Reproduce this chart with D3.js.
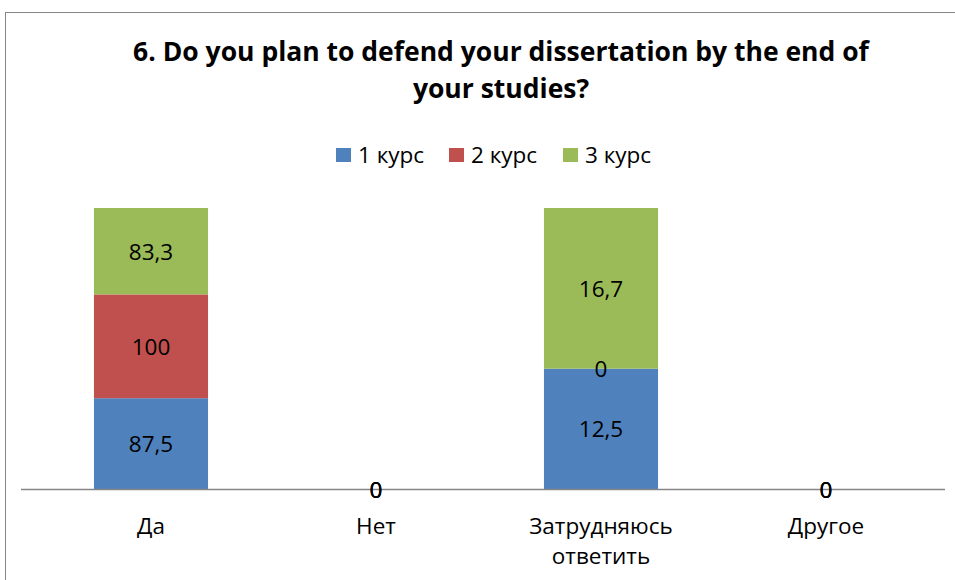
<!DOCTYPE html>
<html><head><meta charset="utf-8">
<script src="https://cdn.jsdelivr.net/npm/d3@7"></script>
<style>body{margin:0;background:#fff}svg{display:block}</style>
</head><body>
<script>
const categories = ["Да", "Нет", "Затрудняюсь ответить", "Другое"];
const seriesNames = ["1 курс", "2 курс", "3 курс"];
const course1 = [87.5, 0, 12.5, 0];
const course2 = [100, 0, 0, 0];
const course3 = [83.3, 0, 16.7, 0];
const colors = ["#4F81BD", "#C0504D", "#9BBB59"];
const titleLines = ["6. Do you plan to defend your dissertation by the end of", "your studies?"];

const W = 955, H = 580;
const font = "'Open Sans', 'Noto Sans', sans-serif";
const labelSize = 22.5;
const svg = d3.select("body").append("svg").attr("width", W).attr("height", H);

// chart frame
svg.append("rect").attr("x", 5.5).attr("y", 12.5).attr("width", 960).attr("height", 600)
  .attr("fill", "#fff").attr("stroke", "#868686").attr("stroke-width", 1);

// title
const title = svg.append("text").attr("text-anchor", "middle").attr("font-family", font)
  .attr("font-weight", "bold").attr("font-size", 26.5).attr("fill", "#000");
titleLines.forEach((t, i) => title.append("tspan").attr("x", 501).attr("y", 61 + i * 37).text(t));

// legend
const legendX = [336, 449, 563];
seriesNames.forEach((n, i) => {
  svg.append("rect").attr("x", legendX[i]).attr("y", 148).attr("width", 15).attr("height", 14).attr("fill", colors[i]);
  svg.append("text").attr("x", legendX[i] + 22).attr("y", 163).attr("font-family", font)
    .attr("font-size", labelSize).attr("fill", "#000").text(n);
});

const series = [course1, course2, course3];
const rows = categories.map((c, i) => ({cat: c, v: series.map(s => s[i])}));

// each column is stacked as shares of its own total
const x = d3.scaleBand().domain(categories).range([38.5, 938.5]).paddingInner(0.493).paddingOuter(0.2465);
const y = d3.scaleLinear().domain([0, 1]).range([489, 208]);

const g = svg.append("g");
rows.forEach(r => {
  const total = d3.sum(r.v);
  let acc = 0;
  r.v.forEach((v, k) => {
    const y0 = total ? acc / total : 0;
    const y1 = total ? (acc + v) / total : 0;
    acc += v;
    if (total && v > 0) {
      g.append("rect").attr("x", x(r.cat)).attr("width", x.bandwidth())
        .attr("y", y(y1)).attr("height", y(y0) - y(y1)).attr("fill", colors[k]);
    }
  });
});

// category axis line
svg.append("line").attr("x1", 21).attr("x2", 945).attr("y1", 489.5).attr("y2", 489.5)
  .attr("stroke", "#868686").attr("stroke-width", 1.5);

// category labels
rows.forEach(r => {
  const words = r.cat.split(" ");
  const t = svg.append("text").attr("text-anchor", "middle").attr("font-family", font)
    .attr("font-size", labelSize).attr("fill", "#000");
  words.forEach((w, i) => t.append("tspan").attr("x", x(r.cat) + x.bandwidth() / 2).attr("y", 534 + i * 30).text(w));
});

// data labels
rows.forEach(r => {
  const total = d3.sum(r.v);
  let acc = 0;
  r.v.forEach(v => {
    const mid = total ? (acc + v / 2) / total : 0;
    acc += v;
    svg.append("text").attr("text-anchor", "middle").attr("font-family", font).attr("font-size", labelSize)
      .attr("fill", "#000").attr("x", x(r.cat) + x.bandwidth() / 2).attr("y", y(mid) + 8.5)
      .text(String(v).replace(".", ","));
  });
});
</script>
</body></html>
